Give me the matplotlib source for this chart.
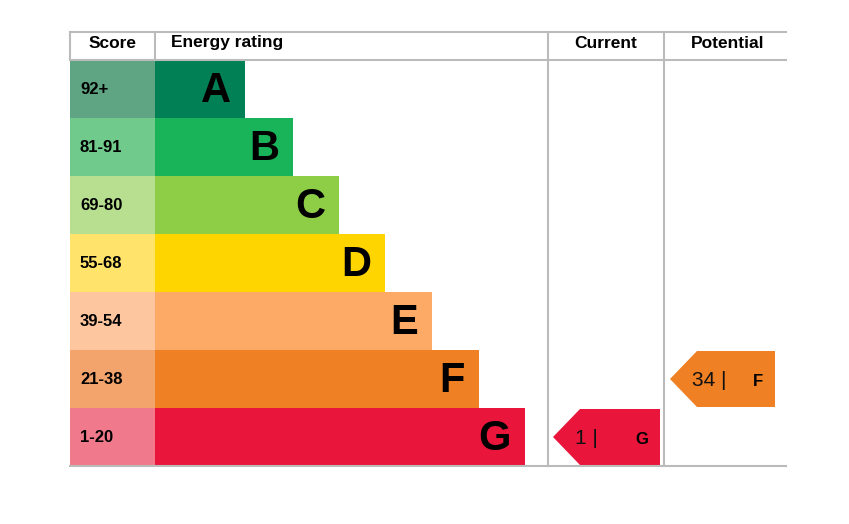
import matplotlib
matplotlib.use("Agg")
import matplotlib.pyplot as plt
from matplotlib.patches import Polygon, Rectangle

bands = ["A", "B", "C", "D", "E", "F", "G"]
scores = ["92+", "81-91", "69-80", "55-68", "39-54", "21-38", "1-20"]
bar_ends = [245, 293, 339, 385, 432, 479, 525]
bar_colors = ["#008054", "#19b459", "#8dce46", "#ffd500", "#fcaa65", "#ef8023", "#e9153b"]
score_colors = ["#5fa583", "#70ca8b", "#b7df8f", "#ffe36a", "#fdc69f", "#f3a46c", "#f07a8b"]
current_value, current_band = 1, "G"
potential_value, potential_band = 34, "F"

W, H = 849, 524
fig = plt.figure(figsize=(W/100, H/100), dpi=100)
ax = fig.add_axes([0, 0, 1, 1])
ax.set_xlim(0, W); ax.set_ylim(H, 0); ax.axis("off")

top, head, rh = 32, 60, 58
left, scol, cur_l, pot_l, right = 70, 155, 548, 664, 786
lc = "#bbbbbb"
ax.plot([left, right], [top, top], color=lc, lw=1.5)
ax.plot([left, right], [head, head], color=lc, lw=1.5)
bottom = head + rh*len(bands)
ax.plot([left, right], [bottom, bottom], color=lc, lw=1.5)
ax.plot([left, left], [top, head], color=lc, lw=1.5)
ax.plot([scol, scol], [top, head], color=lc, lw=1.5)
for x in (cur_l, pot_l):
    ax.plot([x, x], [top, bottom], color=lc, lw=1.5)

fnt = dict(family="Liberation Sans", fontweight="bold")
ax.text(113, 43, "Score", ha="center", va="center", fontsize=12.5, **fnt)
ax.text(171, 43, "Energy rating", ha="left", va="center", fontsize=12.5, **fnt)
ax.text(606, 43, "Current", ha="center", va="center", fontsize=12.5, **fnt)
ax.text(728, 43, "Potential", ha="center", va="center", fontsize=12.5, **fnt)

for i, (b, s, e, bc, sc) in enumerate(zip(bands, scores, bar_ends, bar_colors, score_colors)):
    y0 = head + i*rh
    ax.add_patch(Rectangle((left, y0), scol-left, rh, color=sc, lw=0))
    ax.add_patch(Rectangle((scol, y0), e-scol, rh, color=bc, lw=0))
    ax.text(80, y0+rh/2, s, ha="left", va="center", fontsize=12, **fnt)
    ax.text(e-14, y0+rh/2+2, b, ha="right", va="center", fontsize=30, **fnt)

def arrow(x0, x1, band, val):
    i = bands.index(band)
    y0 = head + i*rh + 1; y1 = y0 + rh - 2; ym = (y0+y1)/2
    ax.add_patch(Polygon([(x0, ym), (x0+27, y0), (x1, y0), (x1, y1), (x0+27, y1)],
                         color=bar_colors[i], lw=0))
    ax.text(x0+22, ym+1, f"{val} |", ha="left", va="center", fontsize=15,
            family="Liberation Sans", color="#111111")
    ax.text(x1-12, ym+2, band, ha="right", va="center", fontsize=12, **fnt)

arrow(553, 660, current_band, current_value)
arrow(670, 775, potential_band, potential_value)

fig.savefig("out.png", dpi=100)
